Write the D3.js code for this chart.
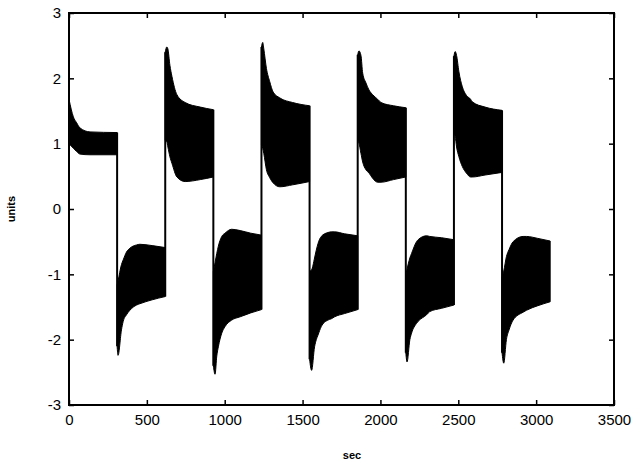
<!DOCTYPE html>
<html>
<head>
<meta charset="utf-8">
<script src="https://cdn.jsdelivr.net/npm/d3@7/dist/d3.min.js"></script>
<style>
  html, body { margin: 0; padding: 0; background: #fff; }
  svg { display: block; }
  text { font-family: "Liberation Sans", Arial, Helvetica, sans-serif; fill: #000; }
</style>
</head>
<body>
<svg id="chart" width="632" height="465"></svg>
<script>
// ---- data ----
const xTicks = [0, 500, 1000, 1500, 2000, 2500, 3000, 3500];
const yTicks = [-3, -2, -1, 0, 1, 2, 3];
const xLabel = "sec";
const yLabel = "units";

// start time (sec) of each switching interval; last value is the end of the record
const segStart = [0, 309, 618, 927, 1236, 1545, 1854, 2163, 2472, 2781];
const segEnd = 3090;

// envelope of the fast oscillation in each interval: [seconds after interval start, upper, lower]
const seg1 = [[0,1.68,1.00],[28,1.41,0.93],[49,1.32,0.88],[71,1.24,0.84],[135,1.18,0.83],[309,1.17,0.83]];
const seg2 = [[0,-1.16,-2.10],[6,-1.10,-2.24],[28,-0.85,-1.85],[39,-0.78,-1.72],[60,-0.66,-1.62],[82,-0.60,-1.55],[125,-0.55,-1.47],[146,-0.54,-1.45],[225,-0.56,-1.39],[309,-0.59,-1.34]];
const seg3 = [[0,2.40,1.05],[10,2.48,1.03],[17,2.45,0.95],[30,2.20,0.80],[43,2.03,0.70],[75,1.75,0.49],[128,1.63,0.42],[225,1.56,0.45],[309,1.52,0.49]];
const seg4 = [[0,-0.96,-2.40],[11,-0.82,-2.53],[22,-0.68,-2.25],[32,-0.57,-2.11],[54,-0.42,-1.90],[75,-0.37,-1.80],[118,-0.31,-1.70],[172,-0.33,-1.65],[240,-0.37,-1.59],[309,-0.40,-1.54]];
const seg5 = [[0,2.48,0.98],[8,2.55,0.93],[15,2.45,0.85],[32,2.15,0.60],[53,1.95,0.48],[75,1.79,0.40],[118,1.70,0.34],[200,1.63,0.37],[309,1.58,0.42]];
const seg6 = [[0,-0.95,-2.30],[13,-0.93,-2.47],[32,-0.75,-2.11],[43,-0.63,-2.00],[54,-0.53,-1.93],[75,-0.42,-1.80],[118,-0.36,-1.70],[140,-0.35,-1.68],[161,-0.35,-1.65],[225,-0.38,-1.60],[309,-0.41,-1.54]];
const seg7 = [[0,2.36,1.05],[8,2.42,1.01],[21,2.35,0.85],[32,2.08,0.72],[53,1.93,0.60],[73,1.82,0.55],[96,1.75,0.47],[128,1.68,0.41],[150,1.63,0.41],[230,1.58,0.45],[309,1.55,0.49]];
const seg8 = [[0,-1.01,-2.20],[8,-0.92,-2.34],[26,-0.75,-2.00],[37,-0.68,-1.90],[69,-0.50,-1.75],[79,-0.47,-1.72],[133,-0.41,-1.62],[154,-0.42,-1.57],[230,-0.44,-1.52],[309,-0.47,-1.47]];
const seg9 = [[0,2.34,1.15],[8,2.41,1.11],[17,2.35,0.95],[32,2.10,0.80],[54,1.87,0.65],[80,1.74,0.55],[107,1.68,0.49],[118,1.64,0.49],[200,1.56,0.52],[309,1.51,0.56]];
const seg10 = [[0,-1.04,-2.20],[11,-0.95,-2.36],[28,-0.73,-2.00],[45,-0.62,-1.85],[71,-0.50,-1.70],[135,-0.42,-1.58],[157,-0.42,-1.55],[230,-0.45,-1.48],[309,-0.49,-1.42]];
const envelopes = [seg1, seg2, seg3, seg4, seg5, seg6, seg7, seg8, seg9, seg10];

// ---- layout ----
const svg = d3.select("#chart");
const L = 69, R = 614, T = 13, B = 405;
const x = d3.scaleLinear().domain([0, 3500]).range([L, R]);
const y = d3.scaleLinear().domain([-3, 3]).range([B, T]);

// ---- data marks ----
const g = svg.append("g");
const area = d3.area()
  .x(d => x(d.t)).y0(d => y(d.lo)).y1(d => y(d.hi))
  .curve(d3.curveMonotoneX);

envelopes.forEach((seg, k) => {
  const s = segStart[k];
  const e = k + 1 < segStart.length ? segStart[k + 1] : segEnd;
  const pts = seg.map(r => ({ t: s + Math.min(r[0], e - s), hi: r[1], lo: r[2] }));
  g.append("path").datum(pts).attr("d", area)
    .attr("fill", "#000").attr("stroke", "#000").attr("stroke-width", 1);
});

// switching transitions (thin vertical traces)
for (let k = 0; k + 1 < envelopes.length; k++) {
  const prev = envelopes[k][envelopes[k].length - 1];
  const next = envelopes[k + 1][0];
  const t = segStart[k + 1];
  const hi = Math.max(prev[1], next[1]);
  const lo = Math.min(prev[2], next[2]);
  g.append("line")
    .attr("x1", x(t)).attr("x2", x(t))
    .attr("y1", y(hi)).attr("y2", y(lo))
    .attr("stroke", "#000").attr("stroke-width", 2);
}

// ---- axes (MATLAB style: box, inward ticks on all sides) ----
const tickLen = 5;
const axB = svg.append("g").attr("transform", `translate(0,${B})`)
  .call(d3.axisBottom(x).tickValues(xTicks).tickSizeInner(-tickLen).tickSizeOuter(0).tickPadding(9).tickFormat(d3.format("d")));
const axT = svg.append("g").attr("transform", `translate(0,${T})`)
  .call(d3.axisTop(x).tickValues(xTicks).tickSizeInner(-tickLen).tickSizeOuter(0).tickFormat(""));
const axL = svg.append("g").attr("transform", `translate(${L},0)`)
  .call(d3.axisLeft(y).tickValues(yTicks).tickSizeInner(-tickLen).tickSizeOuter(0).tickPadding(8).tickFormat(d => d < 0 ? "-" + Math.abs(d) : String(d)));
const axR = svg.append("g").attr("transform", `translate(${R},0)`)
  .call(d3.axisRight(y).tickValues(yTicks).tickSizeInner(-tickLen).tickSizeOuter(0).tickFormat(""));

[axB, axT, axL, axR].forEach(a => {
  a.select(".domain").remove();
  a.selectAll(".tick line").attr("stroke", "#000").attr("stroke-width", 1.5);
  a.selectAll(".tick text").attr("font-size", 15).attr("fill", "#000")
    .style("font-family", '"Liberation Sans", Arial, sans-serif');
});

svg.append("rect").attr("x", L).attr("y", T).attr("width", R - L).attr("height", B - T)
  .attr("fill", "none").attr("stroke", "#000").attr("stroke-width", 2);

// ---- axis titles ----
svg.append("text").attr("x", 352).attr("y", 459)
  .attr("text-anchor", "middle").attr("font-size", 11).attr("font-weight", "bold").text(xLabel);
svg.append("text").attr("transform", `translate(15,${(T + B) / 2}) rotate(-90)`)
  .attr("text-anchor", "middle").attr("font-size", 11).attr("font-weight", "bold").text(yLabel);
</script>
</body>
</html>
